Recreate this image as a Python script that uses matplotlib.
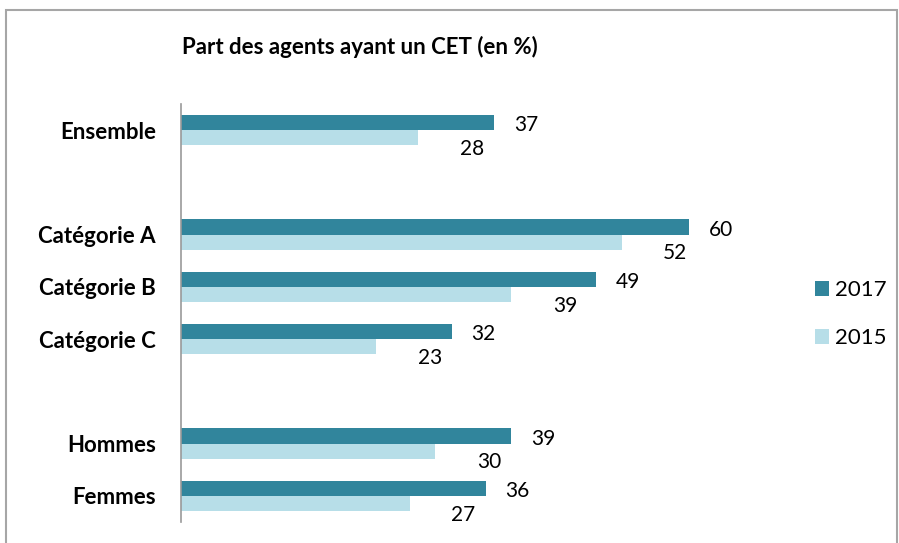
import numpy as np
import matplotlib
matplotlib.use("Agg")
import matplotlib.pyplot as plt
from matplotlib.patches import Rectangle

# data (blank strings are gaps between groups)
categories = ["Ensemble", "", "Catégorie A", "Catégorie B", "Catégorie C", "", "Hommes", "Femmes"]
v2017 = [37, np.nan, 60, 49, 32, np.nan, 39, 36]
v2015 = [28, np.nan, 52, 39, 23, np.nan, 30, 27]
series = ["2017", "2015"]

dark = "#31859C"
light = "#B7DEE8"

plt.rcParams["font.family"] = ["Lato", "DejaVu Sans"]

fig = plt.figure(figsize=(8.99, 5.43), dpi=100)
ax = fig.add_axes([181 / 899, 1 - 522 / 543, 610 / 899, 418 / 543])

y = np.arange(len(categories))
h = 0.29
ax.barh(y - h / 2, v2017, height=h, color=dark, label=series[0])
ax.barh(y + h / 2, v2015, height=h, color=light, label=series[1])

for yi, a, b in zip(y, v2017, v2015):
    if np.isnan(a):
        continue
    ax.annotate(f"{a:.0f}", (a, yi - h / 2), xytext=(14, -2), textcoords="offset points",
                ha="left", va="center", fontsize=15)
    ax.annotate(f"{b:.0f}", (b, yi + h / 2), xytext=(30, -8), textcoords="offset points",
                ha="left", va="center", fontsize=15)

ax.set_xlim(0, 72)
ax.set_ylim(len(categories) - 0.5, -0.5)
ax.set_yticks(y)
ax.set_yticklabels(categories, fontsize=16, fontweight="bold")
ax.tick_params(axis="y", length=0, pad=18)
ax.set_xticks([])
for s in ["top", "right", "bottom"]:
    ax.spines[s].set_visible(False)
ax.spines["left"].set_color("#999999")
ax.spines["left"].set_linewidth(1.2)

fig.text(182 / 899, 1 - 47 / 543, "Part des agents ayant un CET (en %)",
         fontsize=16, fontweight="bold", va="center", ha="left")

fig.legend(loc="center left", bbox_to_anchor=(795 / 899, 1 - 314 / 543), frameon=False,
           fontsize=16, handlelength=0.65, handleheight=0.65, labelspacing=1.25, handletextpad=0.25)

fig.patches.append(Rectangle((6 / 899, -0.05), 891 / 899, 1.05 - 10 / 543,
                             transform=fig.transFigure, fill=False,
                             edgecolor="#A6A6A6", linewidth=1.5))

fig.savefig("out.png", dpi=100)
